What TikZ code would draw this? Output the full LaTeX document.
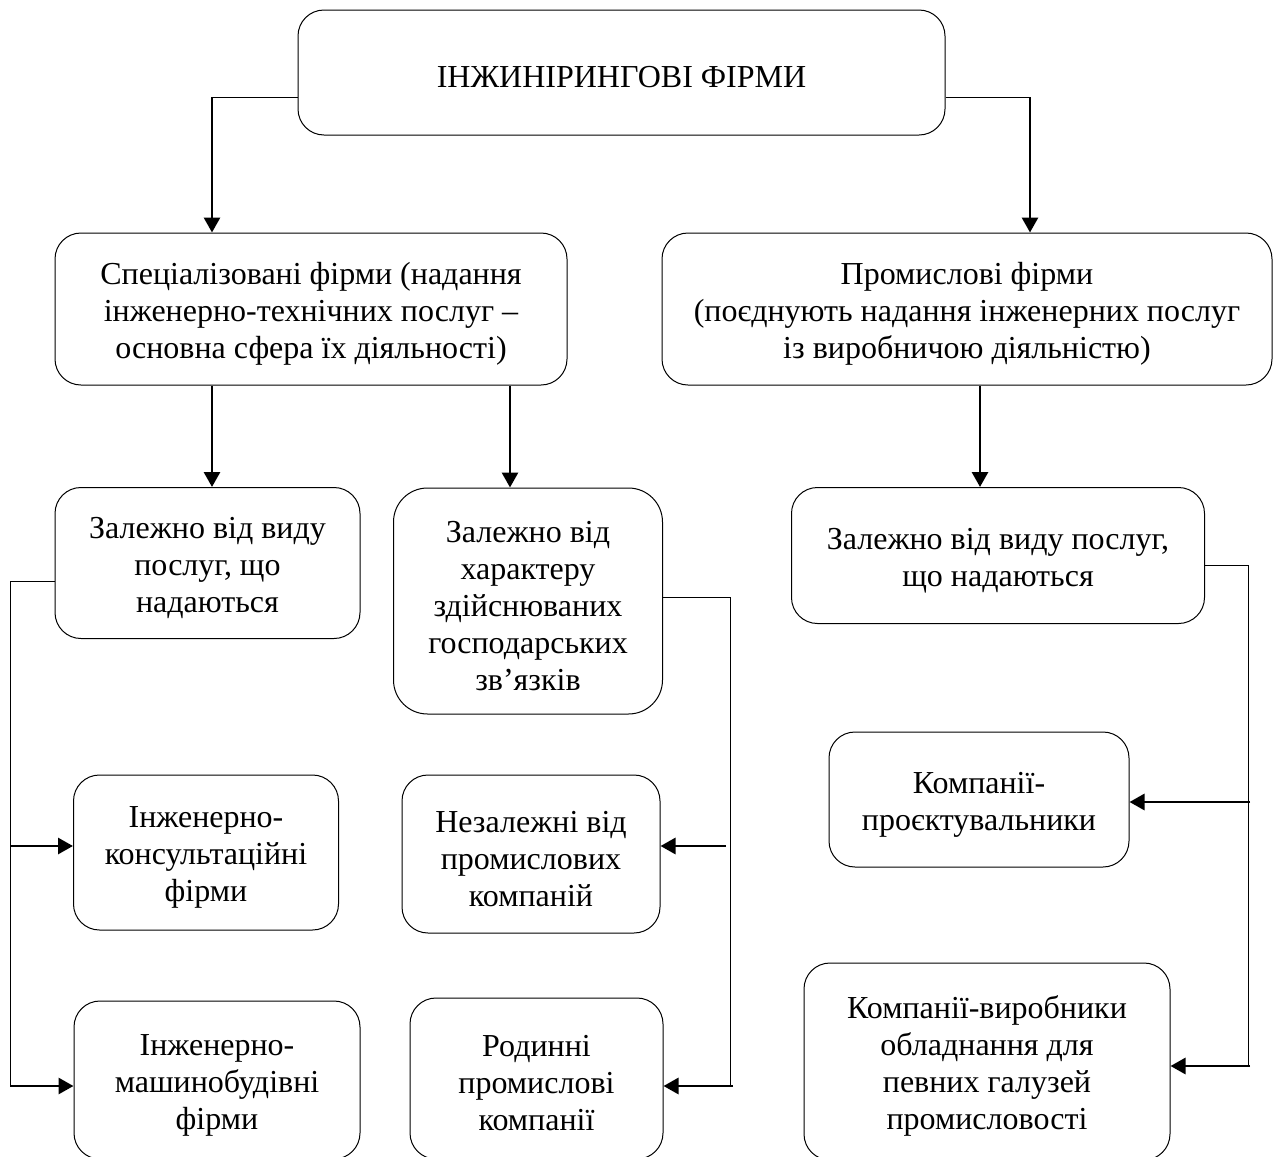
\documentclass[tikz,border=0pt]{standalone}
\usepackage{fontspec}
\setmainfont{Liberation Serif}
\usetikzlibrary{arrows.meta,calc}
\newcommand{\tp}{\rule{0pt}{31pt}}
\begin{document}
\begin{tikzpicture}[x=1pt,y=-1pt,
  box/.style={draw=black,line width=1pt,rounded corners=26pt,align=center,
    inner sep=0pt,font=\fontsize{32}{37}\selectfont},
  thinline/.style={draw=black,line width=1pt},
  arr/.style={draw=black,line width=2.9pt,-{Triangle[length=15pt,width=16pt]}}]
\useasboundingbox (0,0) rectangle (1278,1157);
% boxes
\node[box,minimum width=647pt,minimum height=125pt] (top) at (621.5,72.5) {\tp ІНЖИНІРИНГОВІ ФІРМИ};
\node[box,minimum width=512pt,minimum height=152pt] (spec) at (311,309) {\tp Спеціалізовані фірми (надання\\інженерно-технічних послуг –\\основна сфера їх діяльності)};
\node[box,minimum width=610pt,minimum height=152pt] (prom) at (967,309) {\tp Промислові фірми\\(поєднують надання інженерних послуг\\із виробничою діяльністю)};
\node[box,minimum width=305pt,minimum height=151pt] (zal1) at (207.5,563) {\tp Залежно від виду\\послуг, що\\надаються};
\node[box,minimum width=269pt,minimum height=226pt,rounded corners=34pt] (zal2) at (528,601) {\tp Залежно від\\характеру\\здійснюваних\\господарських\\зв’язків};
\node[box,minimum width=413pt,minimum height=136pt] (zal3) at (998,555.5) {\tp Залежно від виду послуг,\\що надаються};
\node[box,minimum width=265pt,minimum height=155pt] (ink1) at (206,852.5) {\tp Інженерно-\\консультаційні\\фірми};
\node[box,minimum width=258pt,minimum height=158pt] (nez) at (531,854) {\tp Незалежні від\\промислових\\компаній};
\node[box,minimum width=286pt,minimum height=158pt] (ink2) at (217,1080) {\tp Інженерно-\\машинобудівні\\фірми};
\node[box,minimum width=253pt,minimum height=161pt] (rod) at (536.5,1078.5) {\tp Родинні\\промислові\\компанії};
\node[box,minimum width=300pt,minimum height=135pt] (komp1) at (979,799.5) {\tp Компанії-\\проєктувальники};
\node[box,minimum width=366pt,minimum height=197pt] (komp2) at (987,1061.5) {\tp Компанії-виробники\\обладнання для\\певних галузей\\промисловості};
% coordinates
\coordinate (t1) at (212,97);
\coordinate (t2) at (1030,97);
\coordinate (s1) at (212,0);
\coordinate (s2) at (510,0);
\coordinate (p1) at (980,0);
\coordinate (L1) at (10,581);
\coordinate (L2) at (10,846);
\coordinate (L3) at (10,1086);
\coordinate (M1) at (730,597);
\coordinate (M2) at (726,846);
\coordinate (M3) at (733,1086);
\coordinate (M4) at (730,1086);
\coordinate (R1) at (1248,565);
\coordinate (R2) at (1250,802);
\coordinate (R3) at (1250,1066);
\coordinate (R4) at (1248,1066);
% top connectors
\draw[thinline] (top.west |- t1) -- (t1);
\draw[arr] (t1) -- (spec.north -| t1);
\draw[thinline] (top.east |- t2) -- (t2);
\draw[arr] (t2) -- (prom.north -| t2);
% second level
\draw[arr] (spec.south -| s1) -- (zal1.north -| s1);
\draw[arr] (spec.south -| s2) -- (zal2.north -| s2);
\draw[arr] (prom.south -| p1) -- (zal3.north -| p1);
% left bracket
\draw[thinline] (zal1.west |- L1) -- (L1) -- (L3);
\draw[arr] (L2) -- (ink1.west |- L2);
\draw[arr] (L3) -- (ink2.west |- L3);
% middle bracket
\draw[thinline] (zal2.east |- M1) -- (M1) -- (M4);
\draw[arr] (M2) -- (nez.east |- M2);
\draw[arr] (M3) -- (rod.east |- M3);
% right bracket
\draw[thinline] (zal3.east |- R1) -- (R1) -- (R4);
\draw[arr] (R2) -- (komp1.east |- R2);
\draw[arr] (R3) -- (komp2.east |- R3);
\end{tikzpicture}
\end{document}
